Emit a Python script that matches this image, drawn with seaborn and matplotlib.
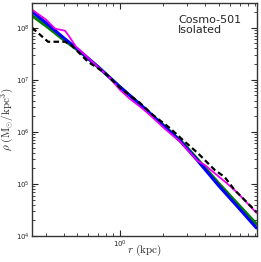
import numpy as np
import seaborn as sns
import matplotlib
matplotlib.use("Agg")
import matplotlib.pyplot as plt
from matplotlib.ticker import LogLocator, NullFormatter

# radius grid (kpc) for the two smooth profiles
r_smooth = [0.24, 0.3, 0.4, 0.5, 0.7, 1.0, 1.4, 2.0, 2.7, 3.5, 5.0, 6.7, 9.2]
rho_blue = [2.03e8, 1.25e8, 6.43e7, 3.94e7, 1.78e7, 7.33e6, 3.31e6, 1.36e6,
            6.43e5, 2.90e5, 9.16e4, 3.78e4, 1.43e4]
rho_green = [1.70e8, 1.09e8, 5.88e7, 3.77e7, 1.78e7, 7.33e6, 3.31e6, 1.39e6,
             6.71e5, 3.09e5, 1.02e5, 4.31e4, 1.70e4]

r_magenta = [0.24, 0.301, 0.349, 0.41, 0.445, 0.49, 0.595, 0.723, 0.85, 1.0,
             1.176, 1.452, 1.626, 2.073, 2.645, 3.54, 3.97, 5.67, 6.78, 9.22]
rho_magenta = [2.22e8, 1.43e8, 9.57e7, 8.76e7, 6.43e7, 4.31e7, 2.65e7, 1.63e7,
               1.09e7, 6.43e6, 4.31e6, 2.77e6, 2.12e6, 1.15e6, 6.6e5, 2.77e5,
               2.32e5, 1.04e5, 6.71e4, 2.77e4]

r_dashed = [0.24, 0.311, 0.41, 0.452, 0.595, 0.784, 1.0, 1.383, 1.708, 2.249,
            2.779, 3.54, 4.67, 5.49, 6.45, 7.60, 9.22]
rho_dashed = [1.0e8, 5.38e7, 5.38e7, 4.71e7, 2.22e7, 1.36e7, 7.02e6, 3.61e6,
              2.12e6, 1.19e6, 7.02e5, 3.94e5, 1.86e5, 1.36e5, 7.67e4, 4.92e4, 2.89e4]

sns.set_style("ticks")
plt.rcParams["mathtext.fontset"] = "cm"
plt.rcParams["font.family"] = ["DejaVu Sans"]

fig = plt.figure(figsize=(2.61, 2.62), dpi=100)
ax = fig.add_axes([0.123, 0.099, 0.862, 0.89])

sns.lineplot(x=r_smooth, y=rho_green, ax=ax, color="#008000", lw=2.2, estimator=None, sort=False)
sns.lineplot(x=r_smooth, y=rho_blue, ax=ax, color="#0000ff", lw=2.2, estimator=None, sort=False)
sns.lineplot(x=r_magenta, y=rho_magenta, ax=ax, color="#ee00ee", lw=1.3, estimator=None, sort=False)
sns.lineplot(x=r_dashed, y=rho_dashed, ax=ax, color="black", lw=1.6, estimator=None, sort=False,
             linestyle=(0, (2.5, 1.5)))

ax.set_xscale("log")
ax.set_yscale("log")
ax.set_xlim(0.24, 9.3)
ax.set_ylim(1e4, 3e8)

ax.xaxis.set_major_locator(LogLocator(base=10))
ax.xaxis.set_minor_locator(LogLocator(base=10, subs=np.arange(2, 10)))
ax.xaxis.set_minor_formatter(NullFormatter())
ax.yaxis.set_minor_locator(LogLocator(base=10, subs=np.arange(2, 10)))
ax.yaxis.set_minor_formatter(NullFormatter())

ax.tick_params(which="both", direction="in", top=True, right=True, labelsize=5, pad=2)
ax.tick_params(which="major", length=4, width=0.8)
ax.tick_params(which="minor", length=2, width=0.6)
for s in ax.spines.values():
    s.set_linewidth(1.0)
    s.set_color("#333333")

ax.set_xlabel(r"$r\ \mathrm{(kpc)}$", fontsize=8)
ax.xaxis.set_label_coords(0.5, -0.03)
ax.set_ylabel(r"$\rho\ \mathrm{(M_{\odot}/kpc^3)}$", fontsize=8, labelpad=0)

ax.text(0.65, 0.95, "Cosmo-501\nIsolated", transform=ax.transAxes, fontsize=8,
        va="top", ha="left", linespacing=1.1)

fig.savefig("out.png", dpi=100)
